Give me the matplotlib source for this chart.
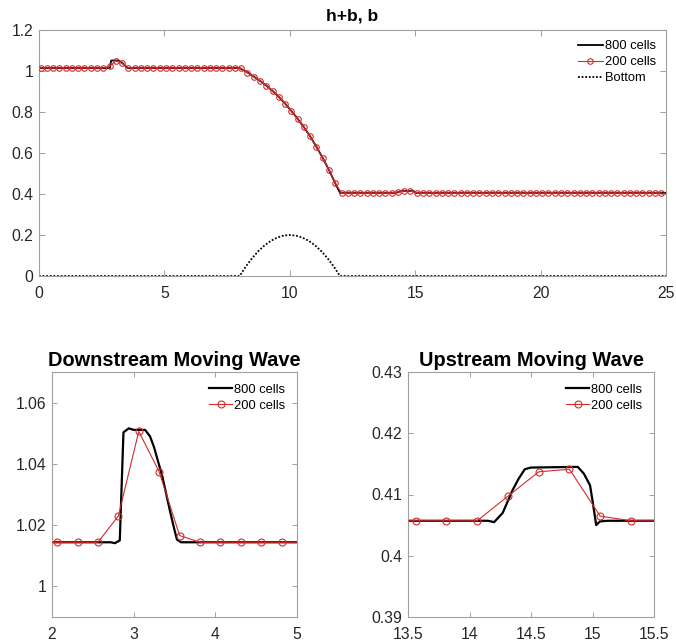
import numpy as np
import matplotlib
matplotlib.use("Agg")
import matplotlib.pyplot as plt
from matplotlib.ticker import FormatStrFormatter, FuncFormatter

plt.rcParams['font.family'] = ['Liberation Sans', 'DejaVu Sans']

# ---------------- data ----------------
# 800-cell reference solution (breakpoints of the water surface h+b)
x800 = [0.0, 2.72, 2.77, 2.83, 2.875, 2.94, 3.0, 3.14, 3.2, 3.25, 3.35, 3.45, 3.5, 3.53, 3.58,
        8.0, 8.3125, 8.5625, 8.8125, 9.0625, 9.3125, 9.5625, 9.8125, 10.0625, 10.3125,
        10.5625, 10.8125, 11.0625, 11.3125, 11.5625, 11.8125, 12.0,
        14.15, 14.2, 14.27, 14.35, 14.4, 14.45, 14.5, 14.88, 14.93, 14.98, 15.0, 15.03, 15.06,
        15.12, 25.0]
h800 = [1.0144, 1.0144, 1.0141, 1.0150, 1.0503, 1.0516, 1.0511, 1.0511, 1.0490, 1.0454,
        1.0360, 1.0240, 1.0184, 1.0153, 1.0144,
        1.0144, 0.993, 0.973, 0.952, 0.929, 0.903, 0.874, 0.841, 0.805, 0.767,
        0.726, 0.681, 0.630, 0.576, 0.517, 0.452, 0.4057,
        0.40571, 0.40549, 0.4070, 0.4107, 0.4126, 0.41413, 0.4144, 0.41451, 0.4134, 0.4115,
        0.4090, 0.4050, 0.4056, 0.40571, 0.40571]

# 200-cell solution (plotted cell centres)
x200 = np.linspace(0.0625, 24.8125, 100)
h200 = ([1.0144] * 11
        + [1.0230, 1.0506, 1.0374, 1.0166]
        + [1.0144] * 17
        + [1.0125, 0.992, 0.972, 0.952, 0.929, 0.903, 0.874, 0.841, 0.805, 0.767,
           0.726, 0.681, 0.630, 0.576, 0.517, 0.452]
        + [0.40571] * 9
        + [0.40973, 0.41370, 0.41413, 0.40647]
        + [0.40571] * 39)

# bottom topography b
xb = [0.0, 8.0, 8.25, 8.5, 8.75, 9.0, 9.25, 9.5, 9.75, 10.0, 10.25, 10.5, 10.75, 11.0,
      11.25, 11.5, 11.75, 12.0, 25.0]
b = [0.0, 0.0, 0.0469, 0.0875, 0.1219, 0.15, 0.1719, 0.1875, 0.1969, 0.2, 0.1969, 0.1875,
     0.1719, 0.15, 0.1219, 0.0875, 0.0469, 0.0, 0.0]

titles = ["h+b, b", "Downstream Moving Wave", "Upstream Moving Wave"]
labels = ["800 cells", "200 cells", "Bottom"]

# ---------------- style ----------------
RED = '#d42b2b'
SPINE = '#a0a0a0'
TXT = '#262626'

fig = plt.figure(figsize=(6.76, 6.44), dpi=100)

ax_top = fig.add_axes([39/676, 1-276/644, 627/676, 246/644])
ax_l = fig.add_axes([52/676, 1-617/644, 245/676, 245/644])
ax_r = fig.add_axes([408/676, 1-617/644, 246/676, 245/644])

fmt = FuncFormatter(lambda v, p: ('%g' % round(v, 6)))


def style(ax, ticklen):
    for s in ax.spines.values():
        s.set_color(SPINE)
        s.set_linewidth(0.8)
    ax.tick_params(direction='in', length=ticklen, width=0.7, color=SPINE,
                   top=True, right=True, labelsize=11.3, labelcolor=TXT)
    ax.tick_params(axis='x', pad=7.5)
    ax.tick_params(axis='y', pad=4)
    ax.xaxis.set_major_formatter(fmt)
    ax.yaxis.set_major_formatter(fmt)


# top panel
ax_top.plot(x800, h800, color='black', lw=1.3, label=labels[0], zorder=2)
ax_top.plot(x200, h200, color=RED, lw=0.8, marker='o', ms=4, mfc='none', mec=RED,
            mew=0.8, label=labels[1], zorder=3)
ax_top.plot(xb, b, color='black', lw=1.3, linestyle=(0, (1, 1)), label=labels[2], zorder=2)
ax_top.set_xlim(0, 25)
ax_top.set_ylim(0, 1.2)
ax_top.set_xticks([0, 5, 10, 15, 20, 25])
ax_top.set_yticks([0, 0.2, 0.4, 0.6, 0.8, 1.0, 1.2])
style(ax_top, 4)
ax_top.set_title(titles[0], fontsize=12.5, fontweight='bold', pad=7, color='black')
ax_top.legend(loc='upper right', frameon=False, fontsize=9.3, handlelength=1.9,
              handletextpad=0.15, labelspacing=0.3, borderaxespad=0.4)

# bottom-left panel
for ax, xl, yl, xt, yt, t in [
        (ax_l, (2, 5), (0.99, 1.07), [2, 3, 4, 5], [1.0, 1.02, 1.04, 1.06], titles[1]),
        (ax_r, (13.5, 15.5), (0.39, 0.43), [13.5, 14, 14.5, 15, 15.5],
         [0.39, 0.40, 0.41, 0.42, 0.43], titles[2])]:
    ax.plot(x800, h800, color='black', lw=1.6, label=labels[0], zorder=2)
    ax.plot(x200, h200, color=RED, lw=0.8, marker='o', ms=5, mfc='none', mec=RED,
            mew=0.8, label=labels[1], zorder=3)
    ax.set_xlim(*xl)
    ax.set_ylim(*yl)
    ax.set_xticks(xt)
    ax.set_yticks(yt)
    style(ax, 3.5)
    ax.set_title(t, fontsize=14.4, fontweight='bold', pad=4, color='black')
    ax.legend(loc='upper right', frameon=False, fontsize=9.3, handlelength=1.8,
              handletextpad=0.15, labelspacing=0.3, borderaxespad=0.5)

fig.savefig('out.png', dpi=100)
